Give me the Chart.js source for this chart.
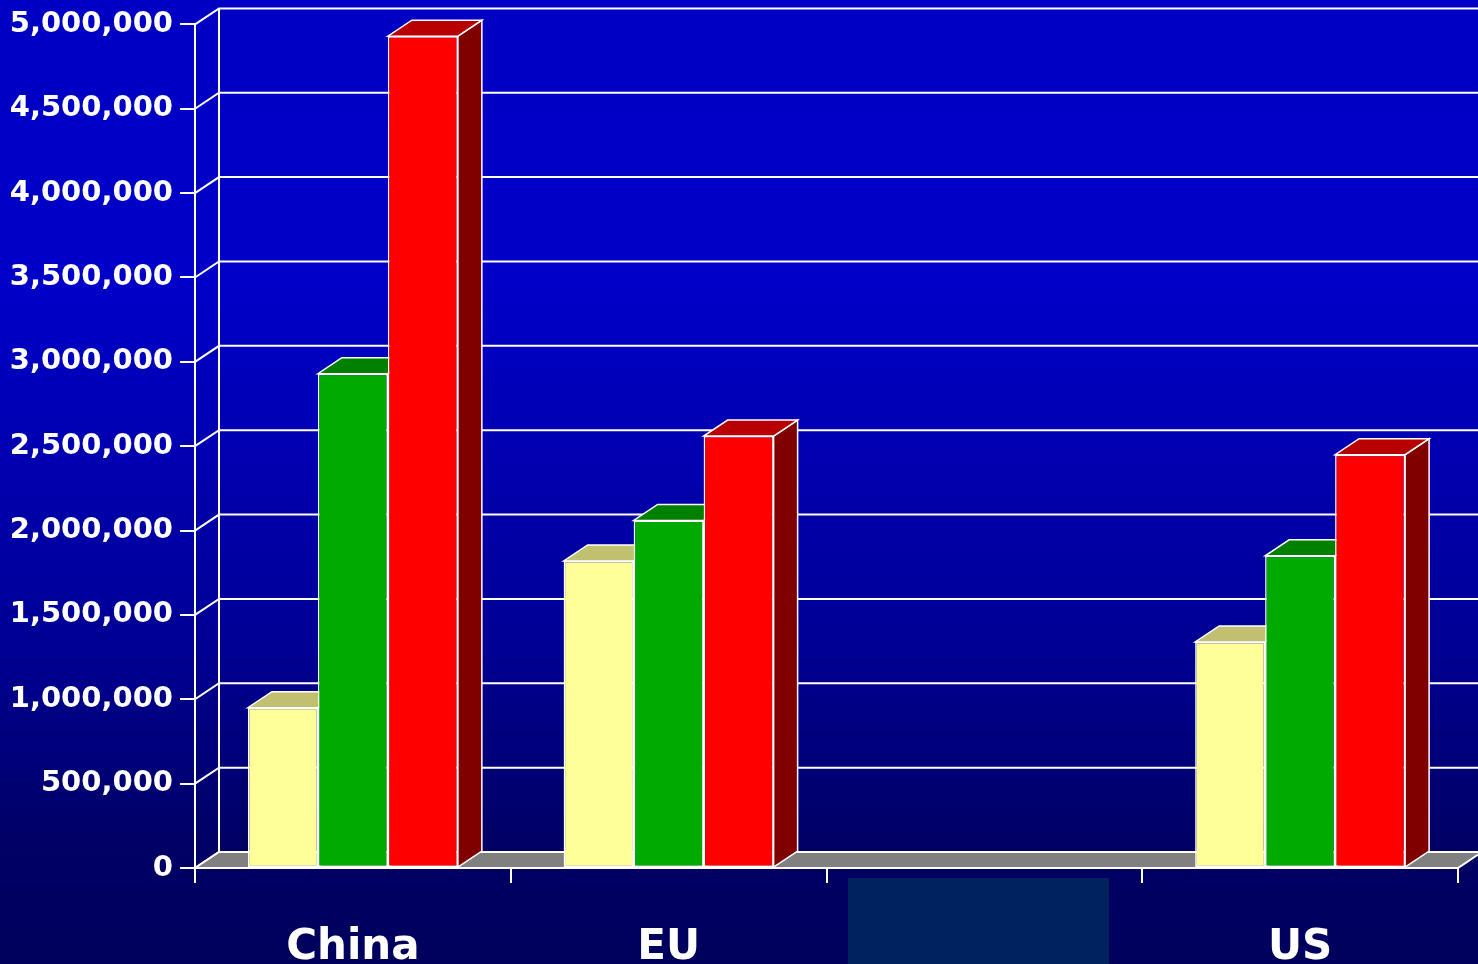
<!DOCTYPE html>
<html>
<head>
<meta charset="utf-8">
<script src="https://cdn.jsdelivr.net/npm/chart.js@4/dist/chart.umd.min.js"></script>
<style>
  html, body { margin: 0; padding: 0; background: #000080; }
  #wrap { width: 1478px; height: 964px; position: relative; }
  canvas { display: block; }
</style>
</head>
<body>
<div id="wrap"><canvas id="c" width="1478" height="964"></canvas></div>
<script>
// Categories and series values
const categories = ['China', 'EU', '', 'US'];
const seriesYellow = [950000, 1820000, null, 1340000];
const seriesGreen  = [2930000, 2060000, null, 1850000];
const seriesRed    = [4930000, 2560000, null, 2450000];
const tickValues   = [0, 500000, 1000000, 1500000, 2000000, 2500000, 3000000, 3500000, 4000000, 4500000, 5000000];

// Face colours: front / top / side
const faceColors = [
  { front: '#FFFF99', top: '#C0C070', side: '#808050' },
  { front: '#00AA00', top: '#008000', side: '#005500' },
  { front: '#FF0000', top: '#B80000', side: '#800000' }
];

const DEPTH_X = 24, DEPTH_Y = 16;
const FONT = '"DejaVu Sans", sans-serif';

function poly(ctx, pts, fill, stroke, lw) {
  ctx.beginPath();
  ctx.moveTo(pts[0][0], pts[0][1]);
  for (let i = 1; i < pts.length; i++) ctx.lineTo(pts[i][0], pts[i][1]);
  ctx.closePath();
  if (fill) { ctx.fillStyle = fill; ctx.fill(); }
  if (stroke) { ctx.strokeStyle = stroke; ctx.lineWidth = lw || 1.5; ctx.stroke(); }
}

const threeD = {
  id: 'threeD',
  beforeDraw(chart) {
    const { ctx, width, height } = chart;
    const g = ctx.createLinearGradient(0, 0, 0, height);
    g.addColorStop(0, 'rgb(0,0,196)');
    g.addColorStop(0.3, 'rgb(0,0,200)');
    g.addColorStop(0.66, 'rgb(0,0,150)');
    g.addColorStop(0.87, 'rgb(0,0,102)');
    g.addColorStop(1, 'rgb(0,0,92)');
    ctx.save();
    ctx.fillStyle = g;
    ctx.fillRect(0, 0, width, height);
    ctx.restore();
  },
  beforeDatasetsDraw(chart) {
    const { ctx, chartArea: a, scales } = chart;
    const y = scales.y;
    ctx.save();
    ctx.strokeStyle = '#FFFFFF';
    ctx.lineWidth = 2;
    // back wall gridlines and the depth ticks joining them to the front axis
    tickValues.forEach(v => {
      const py = y.getPixelForValue(v);
      ctx.beginPath();
      ctx.moveTo(a.left, py);
      ctx.lineTo(a.left + DEPTH_X, py - DEPTH_Y);
      ctx.lineTo(chart.width + 10, py - DEPTH_Y);
      ctx.stroke();
    });
    // back wall left edge
    ctx.beginPath();
    ctx.moveTo(a.left + DEPTH_X, a.top - DEPTH_Y);
    ctx.lineTo(a.left + DEPTH_X, a.bottom - DEPTH_Y);
    ctx.stroke();
    // floor
    poly(ctx, [
      [a.left, a.bottom],
      [a.right, a.bottom],
      [a.right + DEPTH_X, a.bottom - DEPTH_Y],
      [a.left + DEPTH_X, a.bottom - DEPTH_Y]
    ], '#808080', '#FFFFFF', 2);

    // bars: left to right within each group, each with its side, top and front face
    chart.data.datasets.forEach((ds, di) => {
      const meta = chart.getDatasetMeta(di);
      const c = faceColors[di];
      meta.data.forEach((bar, j) => {
        if (ds.data[j] == null) return;
        const x0 = bar.x - bar.width / 2, x1 = bar.x + bar.width / 2;
        const top = bar.y, base = bar.base;
        poly(ctx, [[x1, top], [x1 + DEPTH_X, top - DEPTH_Y], [x1 + DEPTH_X, base - DEPTH_Y], [x1, base]], c.side, '#FFFFFF', 1.5);
        poly(ctx, [[x0, top], [x1, top], [x1 + DEPTH_X, top - DEPTH_Y], [x0 + DEPTH_X, top - DEPTH_Y]], c.top, '#FFFFFF', 1.5);
        bar.draw(ctx, a);
      });
    });
    ctx.restore();
  },
  beforeDatasetDraw() {
    // bars are already painted in group order above
    return false;
  },
  afterDraw(chart) {
    // plain panel over the third category label
    const { ctx, scales } = chart;
    const cx = scales.x.getPixelForValue(2) - 6;
    ctx.save();
    ctx.fillStyle = 'rgb(0,34,94)';
    ctx.fillRect(Math.round(cx - 130.5), 878, 261, 86);
    ctx.restore();
  }
};

const makeSet = (label, data, i) => ({
  label,
  data,
  backgroundColor: faceColors[i].front,
  borderColor: '#FFFFFF',
  borderWidth: 1.5,
  borderSkipped: false,
  categoryPercentage: 0.665,
  barPercentage: 1.0
});

new Chart(document.getElementById('c'), {
  type: 'bar',
  data: {
    labels: categories,
    datasets: [
      makeSet('Series 1', seriesYellow, 0),
      makeSet('Series 2', seriesGreen, 1),
      makeSet('Series 3', seriesRed, 2)
    ]
  },
  options: {
    responsive: false,
    animation: false,
    devicePixelRatio: 1,
    layout: { padding: { top: 24, right: 20, left: 0, bottom: 0 } },
    plugins: { legend: { display: false }, tooltip: { enabled: false } },
    scales: {
      x: {
        afterFit(s) { s.height = 96; },
        grid: { offset: true, drawOnChartArea: false, color: '#FFFFFF', lineWidth: 2, tickLength: 15 },
        border: { color: '#FFFFFF', width: 2 },
        ticks: { color: '#FFFFFF', padding: 40, font: { family: FONT, size: 42, weight: 'bold' } }
      },
      y: {
        min: 0,
        max: 5000000,
        afterFit(s) { s.width = 195; },
        afterBuildTicks(s) { s.ticks = tickValues.map(v => ({ value: v })); },
        grid: { drawOnChartArea: false, color: '#FFFFFF', lineWidth: 2, tickLength: 15 },
        border: { color: '#FFFFFF', width: 2 },
        ticks: {
          color: '#FFFFFF',
          padding: 7,
          font: { family: FONT, size: 29, weight: 'bold' },
          callback: v => Number(v).toLocaleString('en-US')
        }
      }
    }
  },
  plugins: [threeD]
});
</script>
</body>
</html>
